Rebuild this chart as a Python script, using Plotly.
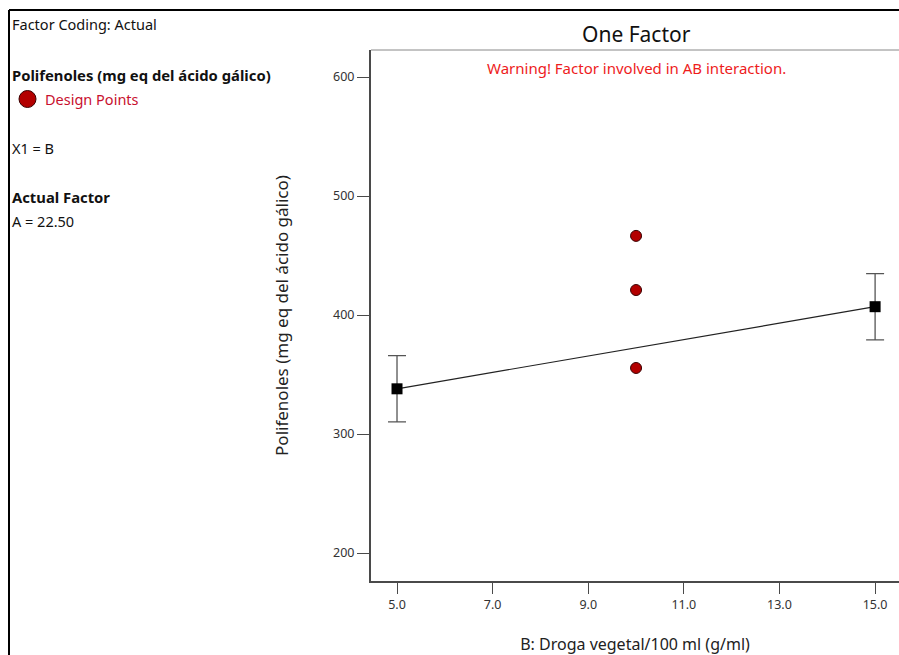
import plotly.graph_objects as go

# Data
factor_levels = [5.0, 15.0]
predicted = [338.0, 407.0]
ci_half = [27.8, 27.8]
design_x = [10.0, 10.0, 10.0]
design_y = [466.5, 421.0, 355.5]
x_ticks = [5.0, 7.0, 9.0, 11.0, 13.0, 15.0]
y_ticks = [200, 300, 400, 500, 600]

W, H = 899, 655
L, R, T, B = 371, 0, 50, 74
pw, ph = W - L - R, H - T - B

def px(x):
    return (x - L) / pw

def py(y):
    return (H - B - y) / ph

FONT = "Noto Sans"

fig = go.Figure()

fig.add_trace(go.Scatter(
    x=factor_levels, y=predicted, mode="lines",
    line=dict(color="#222222", width=1.2), showlegend=False, hoverinfo="skip"))

fig.add_trace(go.Scatter(
    x=factor_levels, y=predicted, mode="markers",
    marker=dict(symbol="square", size=11, color="black"),
    error_y=dict(type="data", array=ci_half, visible=True, color="#555555",
                 thickness=1.3, width=9),
    showlegend=False))

fig.add_trace(go.Scatter(
    x=design_x, y=design_y, mode="markers",
    marker=dict(symbol="circle", size=11, color="#b30000",
                line=dict(color="#3a0000", width=1)),
    showlegend=False))

fig.update_layout(
    width=W, height=H,
    margin=dict(l=L, r=R, t=T, b=B),
    paper_bgcolor="white", plot_bgcolor="white",
    font=dict(family=FONT, color="#222222"),
    xaxis=dict(range=[4.456, 15.5], tickvals=x_ticks,
               ticktext=[f"{v:.1f}" for v in x_ticks],
               showgrid=False, zeroline=False,
               showline=True, linecolor="#4a4a4a", linewidth=2,
               ticks="outside", ticklen=11, tickwidth=1.3, tickcolor="#4a4a4a",
               tickfont=dict(size=12.5, color="#333333", family=FONT),
               title=dict(text="B: Droga vegetal/100 ml (g/ml)",
                          font=dict(size=16, color="#222222", family=FONT),
                          standoff=28)),
    yaxis=dict(range=[176.5, 622.7], tickvals=y_ticks,
               showgrid=False, zeroline=False,
               showline=True, linecolor="#4a4a4a", linewidth=2,
               ticks="outside", ticklen=12, tickwidth=1.3, tickcolor="#4a4a4a",
               tickfont=dict(size=12.5, color="#333333", family=FONT),
               title=dict(text="Polifenoles (mg eq del ácido gálico)",
                          font=dict(size=17, color="#222222", family=FONT),
                          standoff=40)),
)

shapes = [
    # outer frame
    dict(type="line", xref="paper", yref="paper", x0=px(9), x1=px(9), y0=py(10), y1=py(H + 5),
         line=dict(color="black", width=2)),
    dict(type="line", xref="paper", yref="paper", x0=px(9), x1=px(W + 5), y0=py(10), y1=py(10),
         line=dict(color="black", width=2)),
    # top frame of plot
    dict(type="line", xref="paper", yref="paper", x0=0, x1=px(W + 5), y0=1, y1=1,
         line=dict(color="#888888", width=1)),
    # legend marker
    dict(type="circle", xref="paper", yref="paper",
         x0=px(19), x1=px(36), y0=py(107.5), y1=py(90.5),
         fillcolor="#b30000", line=dict(color="#3a0000", width=1)),
]

def ann(text, x, y, size, color="#111111", xanchor="left"):
    return dict(text=text, xref="paper", yref="paper", x=px(x), y=py(y),
                xanchor=xanchor, yanchor="middle", showarrow=False, borderpad=0,
                font=dict(size=size, color=color, family=FONT))

annotations = [
    ann("One Factor", 636, 34, 21, xanchor="center"),
    ann("Warning! Factor involved in AB interaction.", 636, 68, 15, color="#ee1c1c", xanchor="center"),
    ann("Factor Coding: Actual", 11, 24, 14.5),
    ann("<b>Polifenoles (mg eq del ácido gálico)</b>", 11, 75, 14.8),
    ann("Design Points", 44, 99, 14.5, color="#c8102e"),
    ann("X1 = B", 11, 148, 14.5),
    ann("<b>Actual Factor</b>", 11, 197, 14.8),
    ann("A = 22.50", 11, 221, 14.5),
]

fig.update_layout(shapes=shapes, annotations=annotations)

fig.write_html("out.html")
